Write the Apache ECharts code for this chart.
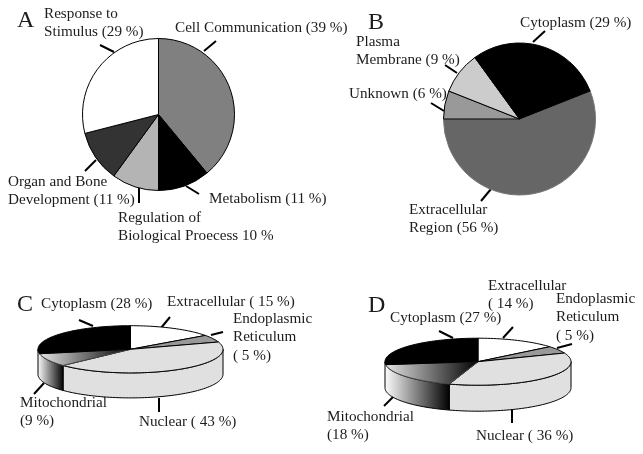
<!DOCTYPE html>
<html><head><meta charset="utf-8">
<style>html,body{margin:0;padding:0;background:#fff}#c{width:643px;height:454px}</style>
<script src="https://cdn.jsdelivr.net/npm/echarts@6/dist/echarts.min.js"></script>
</head><body><div id="c"></div>
<script>
// ---------- data ----------
const catsA = ['Cell Communication','Metabolism','Regulation of Biological Proecess','Organ and Bone Development','Response to Stimulus'];
const valsA = [39,11,10,11,29];
const catsB = ['Extracellular Region','Unknown','Plasma Membrane','Cytoplasm'];
const valsB = [56,6,9,29];
const catsC = ['Extracellular','Endoplasmic Reticulum','Nuclear','Mitochondrial','Cytoplasm'];
const valsC = [15,5,43,9,28];
const catsD = ['Extracellular','Endoplasmic Reticulum','Nuclear','Mitochondrial','Cytoplasm'];
const valsD = [14,5,36,18,27];
const textA = ['Cell Communication (39 %)','Metabolism (11 %)','Regulation of\nBiological Proecess 10 %','Organ and Bone\nDevelopment (11 %)','Response to\nStimulus (29 %)'];
const textB = ['Extracellular\nRegion (56 %)','Unknown (6 %)','Plasma\nMembrane (9 %)','Cytoplasm (29 %)'];
const textC = ['Extracellular ( 15 %)','Endoplasmic\nReticulum\n( 5 %)','Nuclear ( 43 %)','Mitochondrial\n(9 %)','Cytoplasm (28 %)'];
const textD = ['Extracellular\n( 14 %)','Endoplasmic\nReticulum\n( 5 %)','Nuclear ( 36 %)','Mitochondrial\n(18 %)','Cytoplasm (27 %)'];
const panelLetters = ['A','B','C','D'];

// ---------- styles and layout ----------
const colA = ['#808080','#000000','#b4b4b4','#333333','#ffffff'];
const colB = ['#666666','#999999','#cccccc','#000000'];
const mitoTop = {type:'linear',x:0,y:0,x2:1,y2:0,colorStops:[{offset:0,color:'#e4e4e4'},{offset:1,color:'#000'}]};
const mitoWall = {type:'linear',x:0,y:0,x2:1,y2:0,colorStops:[{offset:0,color:'#fff'},{offset:1,color:'#000'}]};
const col3d = ['#ffffff','#999999','#e0e0e0',mitoTop,'#000000'];
const wall3d = ['#ffffff','#999999','#e0e0e0',mitoWall,'#000000'];
const FS = 15.2, LH = 18.5, INK = '#1c1c1c';
const letterPos = [[17,33],[368,35],[17,317],[368,318]];
const labelPos = {
  A:[[175,28],[209,199],[118,218],[8,182],[44,14]],
  B:[[409,210],[349,94],[356,42],[520,23]],
  C:[[167,302],[233,319],[139,422],[20,403],[41,304]],
  D:[[488,286],[556,299],[476,436],[327,417],[390,318]]
};
const tickPos = {
  A:[[204,51,216,41],[186,186,199,194],[139,188,139,203],[96,160,85,171],[114,52,100,45]],
  B:[[491,189,481,201],[444,111,431,103],[457,73,445,65],[533,42,545,31]],
  C:[[161,328,170,317],[211,335,223,332],[159,398,159,412],[34,394,44,383],[93,326,79,320]],
  D:[[503,338,513,327],[557,348,572,344],[512,409,512,423],[384,406,394,396],[453,338,439,331]]
};
const geoC = {cx:130.5,cy:349.3,rx:92.5,ry:23.6,depth:25};
const geoD = {cx:478,cy:361.7,rx:93,ry:23.5,depth:26};

function pieSeries(cats, vals, cols, center, startAngle, borders){
  return {type:'pie',center,radius:76,startAngle,clockwise:true,animation:false,silent:true,
    label:{show:false},labelLine:{show:false},
    data:cats.map((n,i)=>({name:n,value:vals[i],
      itemStyle:{color:cols[i],borderColor:borders?borders[i]:'#000',borderWidth:1}}))};
}
function pie3d(cats, vals, g){
  const total = vals.reduce((a,b)=>a+b,0);
  const starts = []; vals.reduce((s,v,i)=>(starts[i]=s,s+v),0);
  const pt = (deg,dy)=>{const t=deg*Math.PI/180;return [g.cx+g.rx*Math.sin(t),g.cy-g.ry*Math.cos(t)+(dy||0)];};
  const arc = (a,b,dy)=>{const p=[];const n=Math.max(2,Math.ceil(Math.abs(b-a)/2));
    for(let k=0;k<=n;k++)p.push(pt(a+(b-a)*k/n,dy));return p;};
  return {type:'custom',coordinateSystem:'none',animation:false,silent:true,clip:false,
    data:cats.map((n,i)=>({name:n,value:[vals[i]]})),
    renderItem(params,api){
      const i=params.dataIndex, v=api.value(0);
      const a=starts[i]/total*360, b=a+v/total*360;
      const children=[];
      const wa=Math.max(a,90), wb=b>=250?270:Math.min(b,270);
      if(wa<wb && a<250){
        const top=arc(wa,wb,0), bot=arc(wb,wa,g.depth);
        children.push({type:'polygon',shape:{points:top.concat(bot)},
          style:{fill:wall3d[i],stroke:'#000',lineWidth:1}});
      }
      children.push({type:'polygon',shape:{points:[[g.cx,g.cy]].concat(arc(a,b,0))},
        style:{fill:col3d[i],stroke:i===3?'#444':'#000',lineWidth:1}});
      return {type:'group',children};
    }};
}
const graphics = [];
panelLetters.forEach((t,i)=>graphics.push({type:'text',silent:true,
  style:{text:t,x:letterPos[i][0],y:letterPos[i][1],verticalAlign:'bottom',
    font:'24px "Liberation Serif"',fill:INK}}));
function addLabels(key, texts){
  texts.forEach((t,i)=>{
    const p=labelPos[key][i], q=tickPos[key][i];
    graphics.push({type:'text',silent:true,style:{text:t,x:p[0],y:p[1]-LH/2,verticalAlign:'top',
      font:FS+'px "Liberation Serif"',lineHeight:LH,fill:INK}});
    graphics.push({type:'line',silent:true,shape:{x1:q[0],y1:q[1],x2:q[2],y2:q[3]},
      style:{stroke:'#000',lineWidth:2}});
  });
}
addLabels('A',textA); addLabels('B',textB); addLabels('C',textC); addLabels('D',textD);

const chart = echarts.init(document.getElementById('c'),null,{renderer:'canvas'});
chart.setOption({
  backgroundColor:'#fff',animation:false,
  series:[
    pieSeries(catsA,valsA,colA,[158.5,114.5],90),
    pieSeries(catsB,valsB,colB,[519.5,119],21.6,['#777','#000','#000','#000']),
    pie3d(catsC,valsC,geoC),
    pie3d(catsD,valsD,geoD)
  ],
  graphic:graphics
});
</script></body></html>
